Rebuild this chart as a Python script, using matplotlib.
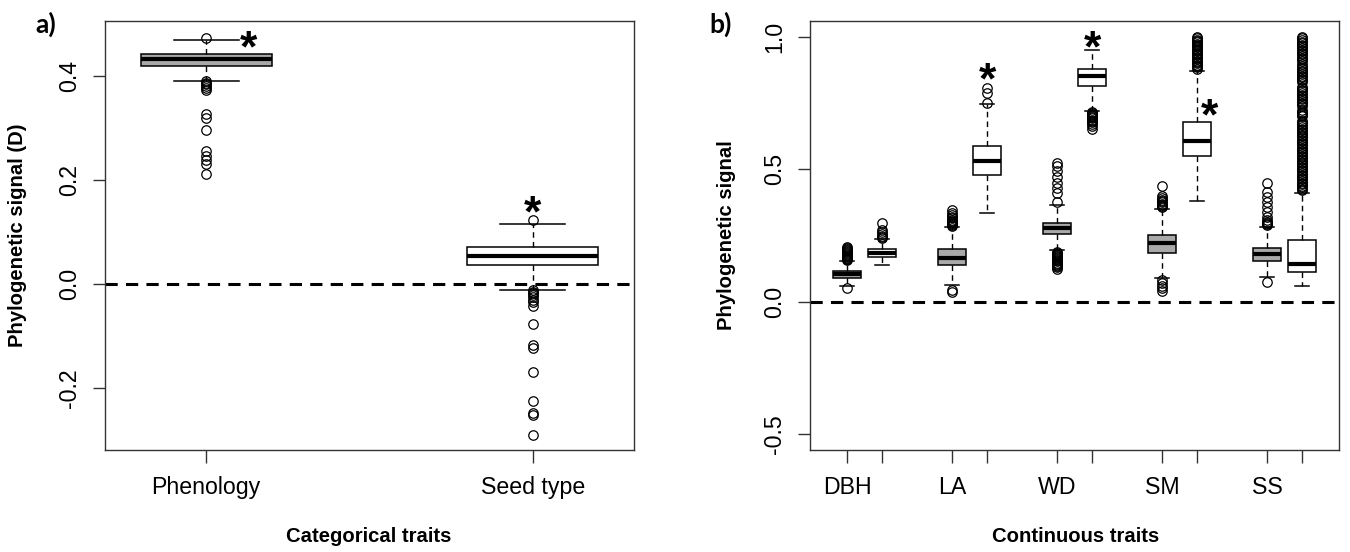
import matplotlib
matplotlib.use("Agg")
import matplotlib.pyplot as plt

# ---------------- data: categorical traits (panel a) ----------------
cat_names = ["Phenology", "Seed type"]
cat_q1 = [0.420, 0.0365]
cat_med = [0.432, 0.054]
cat_q3 = [0.442, 0.072]
cat_lo = [0.391, -0.011]
cat_hi = [0.469, 0.116]
cat_fliers = [
    [0.474, 0.390, 0.387, 0.384, 0.381, 0.378, 0.374, 0.327, 0.319, 0.296,
     0.256, 0.246, 0.238, 0.231, 0.212],
    [0.123, -0.012, -0.015, -0.018, -0.021, -0.025, -0.030, -0.035, -0.042,
     -0.076, -0.117, -0.122, -0.169, -0.225, -0.247, -0.252, -0.290],
]
cat_fill = ["gray", "white"]
# significance stars: (position, y)
cat_stars = [(1.13, 0.477), (2.0, 0.160)]

# ---------------- data: continuous traits (panel b) ----------------
cont_names = ["DBH", "LA", "WD", "SM", "SS"]
# each trait has a grey box followed by a white box
cont_q1 = [0.091, 0.168, 0.140, 0.478, 0.256, 0.815, 0.183, 0.550, 0.155, 0.111]
cont_med = [0.105, 0.183, 0.164, 0.530, 0.280, 0.853, 0.223, 0.608, 0.179, 0.141]
cont_q3 = [0.117, 0.200, 0.199, 0.588, 0.299, 0.878, 0.252, 0.680, 0.202, 0.233]
cont_lo = [0.059, 0.140, 0.063, 0.334, 0.194, 0.722, 0.091, 0.382, 0.092, 0.059]
cont_hi = [0.154, 0.236, 0.283, 0.746, 0.367, 0.951, 0.349, 0.873, 0.283, 0.412]
cont_fliers = [
    # DBH grey
    [0.157, 0.160, 0.163, 0.166, 0.170, 0.173, 0.176, 0.180, 0.183, 0.187,
     0.190, 0.194, 0.198, 0.203, 0.208, 0.050],
    # DBH white
    [0.240, 0.245, 0.250, 0.255, 0.262, 0.270, 0.296],
    # LA grey
    [0.287, 0.290, 0.294, 0.298, 0.302, 0.306, 0.310, 0.315, 0.320, 0.327,
     0.335, 0.346, 0.045, 0.038],
    # LA white
    [0.752, 0.787, 0.807],
    # WD grey
    [0.378, 0.410, 0.428, 0.447, 0.472, 0.495, 0.513, 0.523,
     0.188, 0.184, 0.180, 0.176, 0.172, 0.168, 0.164, 0.160, 0.156, 0.152,
     0.148, 0.144, 0.140, 0.136, 0.132, 0.122],
    # WD white
    [0.716, 0.712, 0.708, 0.704, 0.700, 0.696, 0.692, 0.688, 0.684, 0.680,
     0.672, 0.665, 0.651],
    # SM grey
    [0.356, 0.360, 0.365, 0.370, 0.375, 0.380, 0.385, 0.390, 0.400, 0.437,
     0.082, 0.070, 0.060, 0.050, 0.042],
    # SM white
    [0.878, 0.885, 0.890, 0.895, 0.900, 0.905, 0.910, 0.915, 0.920, 0.925,
     0.930, 0.935, 0.940, 0.945, 0.950, 0.955, 0.960, 0.965, 0.970, 0.975,
     0.980, 0.985, 0.990, 0.995, 1.000],
    # SS grey
    [0.288, 0.292, 0.296, 0.300, 0.310, 0.321, 0.340, 0.359, 0.378, 0.397,
     0.416, 0.450, 0.075],
    # SS white
    [0.420, 0.426, 0.432, 0.438, 0.444, 0.450, 0.456, 0.462, 0.468, 0.474,
     0.480, 0.486, 0.492, 0.498, 0.504, 0.510, 0.516, 0.522, 0.528, 0.534,
     0.540, 0.546, 0.552, 0.558, 0.564, 0.570, 0.576, 0.582, 0.588, 0.594,
     0.600, 0.606, 0.612, 0.618, 0.624, 0.630, 0.636, 0.642, 0.648, 0.654,
     0.660, 0.666, 0.672, 0.678, 0.684, 0.700, 0.706, 0.712, 0.718, 0.724,
     0.740, 0.746, 0.752, 0.758, 0.764, 0.770, 0.776, 0.782, 0.788, 0.794,
     0.800, 0.806, 0.812, 0.830, 0.836, 0.842, 0.848, 0.854, 0.860, 0.866,
     0.872, 0.878, 0.884, 0.890, 0.896, 0.910, 0.916, 0.922, 0.928, 0.934,
     0.940, 0.946, 0.952, 0.958, 0.964, 0.970, 0.976, 0.982, 0.988, 0.994,
     1.000],
]
cont_fill = ["gray", "white"] * 5
cont_stars = [(5.0, 0.880), (8.0, 1.003), (11.35, 0.745)]

# ---------------- styling ----------------
GREY = "#a9a9a9"
FRAME = "#333333"
TICK_FONT = "Liberation Sans"
plt.rcParams["font.family"] = ["Liberation Sans", "DejaVu Sans"]

W, H = 1350, 552
fig = plt.figure(figsize=(W / 100, H / 100), dpi=100)


def px_axes(left, top, right, bottom):
    return fig.add_axes([left / W, 1 - bottom / H, (right - left) / W, (bottom - top) / H])


ax_a = px_axes(105, 21, 634, 450)
ax_b = px_axes(810, 21, 1339, 450)


def draw_boxes(ax, positions, q1, med, q3, lo, hi, fliers, fills, width):
    stats = []
    for i in range(len(positions)):
        stats.append(dict(q1=q1[i], med=med[i], q3=q3[i], whislo=lo[i],
                          whishi=hi[i], fliers=fliers[i]))
    out = ax.bxp(
        stats, positions=positions, widths=width, capwidths=width / 2,
        patch_artist=True, showfliers=True,
        boxprops=dict(edgecolor="black", linewidth=1.1),
        medianprops=dict(color="black", linewidth=3.0, solid_capstyle="butt"),
        whiskerprops=dict(color="black", linewidth=1.0, linestyle=(0, (4.0, 3.0))),
        capprops=dict(color="black", linewidth=1.1),
        flierprops=dict(marker="o", markerfacecolor="none", markeredgecolor="black",
                        markersize=6.8, markeredgewidth=0.9, linestyle="none"),
    )
    for box, f in zip(out["boxes"], fills):
        box.set_facecolor(GREY if f == "gray" else "white")
    return out


def style_axes(ax):
    for s in ax.spines.values():
        s.set_color(FRAME)
        s.set_linewidth(1.0)
    ax.tick_params(axis="both", direction="out", length=9, width=1.0,
                   color=FRAME, labelsize=16.7)
    ax.tick_params(axis="x", pad=10)
    ax.tick_params(axis="y", pad=8)
    for t in ax.get_yticklabels():
        t.set_rotation(90)
        t.set_va("center")
        t.set_ha("right")
        t.set_family(TICK_FONT)
    for t in ax.get_xticklabels():
        t.set_family(TICK_FONT)
    ax.axhline(0, color="black", linewidth=2.2, linestyle=(0, (4.0, 2.7)), zorder=0.5)


def star(ax, x, y):
    ax.annotate("*", xy=(x, y), xytext=(0, -18), textcoords="offset points",
                ha="center", va="baseline", fontsize=32, fontweight="bold",
                family="Liberation Sans")


# ---- panel a ----
pos_a = [1, 2]
draw_boxes(ax_a, pos_a, cat_q1, cat_med, cat_q3, cat_lo, cat_hi, cat_fliers,
           cat_fill, 0.4)
ax_a.set_xlim(0.69, 2.31)
ax_a.set_ylim(-0.319, 0.506)
ax_a.set_yticks([-0.2, 0.0, 0.2, 0.4])
ax_a.set_yticklabels(["-0.2", "0.0", "0.2", "0.4"])
ax_a.set_xticks(pos_a)
ax_a.set_xticklabels(cat_names)
style_axes(ax_a)
for x, y in cat_stars:
    star(ax_a, x, y)

# ---- panel b ----
pos_b = [1, 2, 4, 5, 7, 8, 10, 11, 13, 14]
draw_boxes(ax_b, pos_b, cont_q1, cont_med, cont_q3, cont_lo, cont_hi,
           cont_fliers, cont_fill, 0.8)
ax_b.set_xlim(-0.06, 15.06)
ax_b.set_ylim(-0.56, 1.06)
ax_b.set_yticks([-0.5, 0.0, 0.5, 1.0])
ax_b.set_yticklabels(["-0.5", "0.0", "0.5", "1.0"])
ax_b.set_xticks(pos_b)
ax_b.set_xticklabels([n if i % 2 == 0 else "" for i, n in
                      enumerate([c for name in cont_names for c in (name, name)])])
style_axes(ax_b)
for x, y in cont_stars:
    star(ax_b, x, y)

# ---- axis titles and panel letters ----
lab = dict(fontsize=14.6, fontweight="bold", family="Liberation Sans")
fig.text(18 / W, 1 - 235 / H, "Phylogenetic signal (D)", rotation=90,
         ha="center", va="center", **lab)
fig.text(369 / W, 1 - 537 / H, "Categorical traits", ha="center", va="center", **lab)
fig.text(727 / W, 1 - 235 / H, "Phylogenetic signal", rotation=90,
         ha="center", va="center", **lab)
fig.text(1076 / W, 1 - 537 / H, "Continuous traits", ha="center", va="center", **lab)
fig.text(46 / W, 1 - 24 / H, "a)", ha="center", va="center", fontsize=19,
         fontweight="bold", family=["Lato", "DejaVu Sans"])
fig.text(721 / W, 1 - 24 / H, "b)", ha="center", va="center", fontsize=19,
         fontweight="bold", family=["Lato", "DejaVu Sans"])

fig.savefig("out.png", dpi=100, facecolor="white")
